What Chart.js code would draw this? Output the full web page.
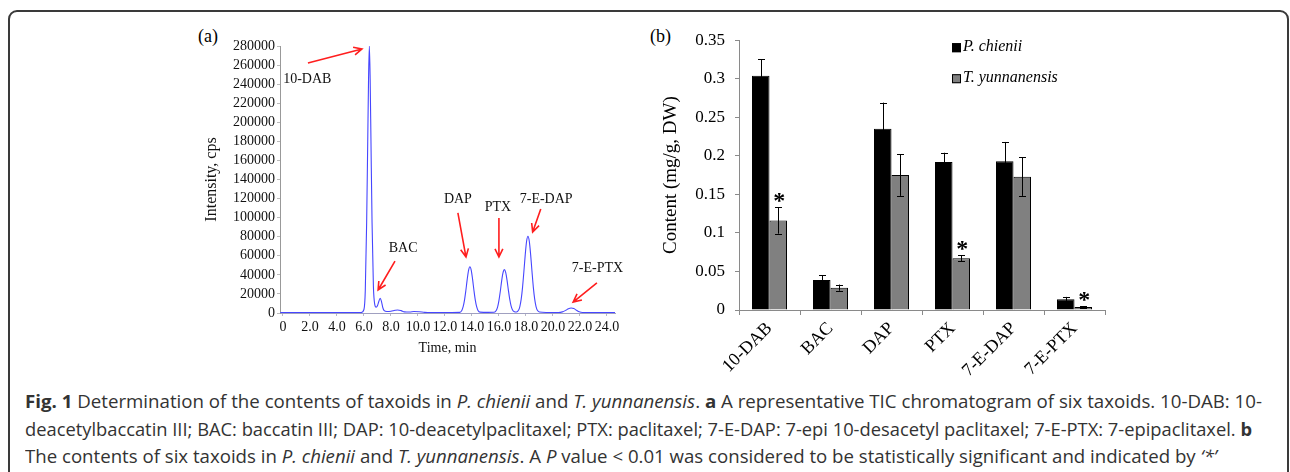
<!DOCTYPE html>
<html>
<head>
<meta charset="utf-8">
<script src="https://cdn.jsdelivr.net/npm/chart.js@4.4.0/dist/chart.umd.min.js"></script>
<style>
  html, body { margin: 0; padding: 0; background: #fff; }
  body { width: 1290px; height: 472px; position: relative; overflow: hidden; }
  #frame { position: absolute; left: 8px; top: 10px; width: 1281px; height: 480px;
           border: 2px solid #3a3a3a; border-radius: 9px; box-sizing: border-box; }
  canvas { position: absolute; }
  .panel { position: absolute; font: 18px 'Liberation Serif', 'Times New Roman', serif; color: #000; }
  #cap { position: absolute; left: 25px; top: 388px; font-family: 'Open Sans', 'DejaVu Sans', sans-serif;
         font-size: 18px; line-height: 27.5px; color: #333; }
  .ln { display: block; width: max-content; white-space: nowrap; transform-origin: 0 0; }
</style>
</head>
<body>
<div id="frame"></div>
<div class="panel" style="left:198px; top:26px;">(a)</div>
<div class="panel" style="left:650px; top:26px;">(b)</div>
<canvas id="chromChart" width="440" height="345" style="left:190px; top:20px;"></canvas>
<canvas id="barChart" width="470" height="362" style="left:640px; top:20px;"></canvas>
<div id="cap">
  <div class="ln" data-w="1237"><b>Fig. 1</b> Determination of the contents of taxoids in <i>P. chienii</i> and <i>T. yunnanensis</i>. <b>a</b> A representative TIC chromatogram of six taxoids. 10-DAB: 10-</div>
  <div class="ln" data-w="1227">deacetylbaccatin III; BAC: baccatin III; DAP: 10-deacetylpaclitaxel; PTX: paclitaxel; 7-E-DAP: 7-epi 10-desacetyl paclitaxel; 7-E-PTX: 7-epipaclitaxel. <b>b</b></div>
  <div class="ln" data-w="1192">The contents of six taxoids in <i>P. chienii</i> and <i>T. yunnanensis</i>. A <i>P</i> value &lt; 0.01 was considered to be statistically significant and indicated by <i>‘*’</i></div>
</div>
<script>
// ---- panel (a): TIC chromatogram ----
const chromTime = [
  -0.2, 3.0, 5.8, 6.0, 6.1, 6.2, 6.28, 6.34, 6.4, 6.46, 6.52, 6.6, 6.7, 6.8, 6.9,
  7.0, 7.1, 7.2, 7.3, 7.4, 7.5, 7.7, 8.0, 8.3, 8.5, 8.75, 9.0, 9.4, 9.7, 10.1, 10.5, 11.0, 12.5, 13.1,
  13.25, 13.35, 13.45, 13.55, 13.65, 13.75, 13.85, 13.95, 14.05, 14.15, 14.25, 14.35, 14.45, 14.6, 15.2,
  15.65, 15.8, 15.9, 16.0, 16.1, 16.2, 16.3, 16.4, 16.5, 16.6, 16.7, 16.8, 16.9, 17.0, 17.15,
  17.3, 17.45, 17.55, 17.65, 17.75, 17.85, 17.95, 18.05, 18.15, 18.25, 18.35, 18.45, 18.55, 18.65, 18.75, 18.85, 19.0, 19.5,
  20.4, 20.7, 20.95, 21.15, 21.35, 21.55, 21.75, 21.95, 22.2, 24.6
];
const chromIntensity = [
  600, 500, 500, 3700, 24000, 95000, 180000, 245000, 280000, 245000, 180000, 95000, 28000, 9000, 6000,
  7500, 12000, 15500, 12000, 5500, 2500, 1500, 1800, 2800, 3200, 2500, 1200, 1000, 1600, 1300, 700, 500, 600, 700,
  2700, 6600, 13500, 23600, 35200, 44800, 48500, 44800, 35200, 23600, 13500, 6600, 2700, 900, 700,
  800, 2600, 6200, 13000, 22500, 33500, 42000, 45500, 42500, 34500, 24000, 14500, 7500, 3500, 1300,
  1000, 2800, 6800, 14500, 26900, 43500, 61200, 75200, 80500, 75200, 61200, 43500, 26900, 14500, 6800, 2800, 1000, 600,
  600, 1200, 2800, 4500, 5200, 4600, 2800, 1200, 600, 500
];
const timeTicks = [0, 2, 4, 6, 8, 10, 12, 14, 16, 18, 20, 22, 24];
const timeTickLabels = ["0", "2.0", "4.0", "6.0", "8.0", "10.0", "12.0", "14.0", "16.0", "18.0", "20.0", "22.0", "24.0"];
const intensityTicks = [0, 20000, 40000, 60000, 80000, 100000, 120000, 140000, 160000, 180000, 200000, 220000, 240000, 260000, 280000];

// peak annotations (data units: min, cps)
const peakNames = ["10-DAB", "BAC", "DAP", "PTX", "7-E-DAP", "7-E-PTX"];
const peakLabelTime = [1.8, 8.9, 12.96, 15.93, 19.5, 23.3];
const peakLabelInt = [245400, 68200, 119600, 111200, 119600, 47200];
const arrowFromTime = [1.85, 8.3, 12.96, 16.0, 19.1, 23.26];
const arrowFromInt = [262200, 54500, 104900, 99600, 109100, 31500];
const arrowToTime = [5.85, 7.05, 13.56, 16.0, 18.5, 21.5];
const arrowToInt = [276900, 24100, 58700, 58700, 85000, 11500];

// ---- panel (b): taxoid contents (mg/g DW) ----
const compounds = ["10-DAB", "BAC", "DAP", "PTX", "7-E-DAP", "7-E-PTX"];
const chieniiMean = [0.304, 0.039, 0.235, 0.192, 0.193, 0.014];
const chieniiErr = [0.021, 0.006, 0.034, 0.012, 0.025, 0.003];
const yunnanMean = [0.116, 0.029, 0.175, 0.067, 0.173, 0.004];
const yunnanErr = [0.017, 0.004, 0.027, 0.004, 0.025, 0.001];
const yunnanSig = [true, false, false, true, false, true];
const contentTicks = [0, 0.05, 0.1, 0.15, 0.2, 0.25, 0.3, 0.35];
const contentTickLabels = ["0", "0.05", "0.1", "0.15", "0.2", "0.25", "0.3", "0.35"];

const SERIF = "'Liberation Serif', 'Times New Roman', serif";
Chart.defaults.font.family = SERIF;
Chart.defaults.color = "#000";

function drawArrow(ctx, x0, y0, x1, y1) {
  const a = Math.atan2(y1 - y0, x1 - x0);
  const len = 9;
  ctx.beginPath();
  ctx.moveTo(x0, y0);
  ctx.lineTo(x1, y1);
  ctx.moveTo(x1 - len * Math.cos(a - 0.45), y1 - len * Math.sin(a - 0.45));
  ctx.lineTo(x1, y1);
  ctx.lineTo(x1 - len * Math.cos(a + 0.45), y1 - len * Math.sin(a + 0.45));
  ctx.stroke();
}

const peakLabels = {
  id: "peakLabels",
  afterDatasetsDraw(chart) {
    const { ctx } = chart;
    const x = chart.scales.x, y = chart.scales.y;
    ctx.save();
    ctx.font = "14px " + SERIF;
    ctx.fillStyle = "#111";
    ctx.textAlign = "center";
    ctx.textBaseline = "middle";
    ctx.strokeStyle = "#ff1e1e";
    ctx.lineWidth = 1.6;
    peakNames.forEach((name, i) => {
      ctx.fillText(name, x.getPixelForValue(peakLabelTime[i]), y.getPixelForValue(peakLabelInt[i]));
      drawArrow(ctx,
        x.getPixelForValue(arrowFromTime[i]), y.getPixelForValue(arrowFromInt[i]),
        x.getPixelForValue(arrowToTime[i]), y.getPixelForValue(arrowToInt[i]));
    });
    ctx.restore();
  }
};

new Chart(document.getElementById("chromChart"), {
  type: "line",
  data: {
    datasets: [{
      label: "TIC",
      data: chromTime.map((t, i) => ({ x: t, y: chromIntensity[i] })),
      borderColor: "rgb(70, 70, 255)",
      borderWidth: 1.1,
      pointRadius: 0,
      fill: false,
      cubicInterpolationMode: "monotone"
    }]
  },
  options: {
    responsive: false,
    animation: false,
    devicePixelRatio: 1,
    layout: { padding: { top: 26, right: 15, left: 0, bottom: 0 } },
    plugins: { legend: { display: false }, tooltip: { enabled: false } },
    scales: {
      x: {
        type: "linear",
        min: -0.22,
        max: 24.6,
        afterBuildTicks: (s) => { s.ticks = timeTicks.map(v => ({ value: v })); },
        afterFit: (s) => { s.height = 52; },
        ticks: {
          autoSkip: false, maxRotation: 0, padding: 3,
          font: { size: 14 }, color: "#111",
          callback: (v) => timeTickLabels[timeTicks.indexOf(v)]
        },
        grid: { drawOnChartArea: false, tickLength: 3, color: "#b8b8c8" },
        border: { color: "#a0a0c0" },
        title: { display: true, text: "Time, min", font: { size: 14 }, color: "#111", padding: { top: 0, bottom: 8 } }
      },
      y: {
        min: 0,
        max: 280000,
        afterBuildTicks: (s) => { s.ticks = intensityTicks.map(v => ({ value: v })); },
        afterFit: (s) => { s.width = 90; },
        ticks: { autoSkip: false, padding: 2, font: { size: 14 }, color: "#111", callback: (v) => String(v) },
        grid: { drawOnChartArea: false, tickLength: 3, color: "#bbbbbb" },
        border: { color: "#999999", dash: [1, 2] },
        title: { display: true, text: "Intensity, cps", font: { size: 16 }, color: "#111", padding: { top: 12, bottom: 0 } }
      }
    }
  },
  plugins: [peakLabels]
});

const errorBars = {
  id: "errorBars",
  afterDatasetsDraw(chart) {
    const { ctx } = chart;
    const y = chart.scales.y;
    ctx.save();
    ctx.strokeStyle = "#000";
    ctx.fillStyle = "#000";
    ctx.lineWidth = 1;
    ctx.font = "bold 24px " + SERIF;
    ctx.textAlign = "center";
    ctx.textBaseline = "alphabetic";
    chart.data.datasets.forEach((ds, di) => {
      chart.getDatasetMeta(di).data.forEach((bar, i) => {
        const top = y.getPixelForValue(ds.data[i] + ds.errors[i]);
        const bot = y.getPixelForValue(ds.data[i] - ds.errors[i]);
        const cx = Math.round(bar.x) + 0.5;
        ctx.beginPath();
        ctx.moveTo(cx, top); ctx.lineTo(cx, bot);
        ctx.moveTo(cx - 3.5, Math.round(top) + 0.5); ctx.lineTo(cx + 3.5, Math.round(top) + 0.5);
        ctx.moveTo(cx - 3.5, Math.round(bot) + 0.5); ctx.lineTo(cx + 3.5, Math.round(bot) + 0.5);
        ctx.stroke();
        if (ds.sig && ds.sig[i]) {
          const m = ctx.measureText("*");
          const cy = top - 10;
          ctx.fillText("*", bar.x + 1, cy - (m.actualBoundingBoxDescent - m.actualBoundingBoxAscent) / 2);
        }
      });
    });
    ctx.restore();
  }
};

const boxLegend = {
  id: "boxLegend",
  afterDraw(chart) {
    const { ctx, chartArea } = chart;
    ctx.save();
    ctx.font = "italic 16px " + SERIF;
    ctx.textBaseline = "middle";
    ctx.textAlign = "left";
    chart.data.datasets.forEach((ds, i) => {
      const sx = chartArea.right - 153;
      const sy = chartArea.top + 3 + i * 31;
      ctx.fillStyle = ds.backgroundColor;
      ctx.fillRect(sx, sy, 9, 9);
      ctx.strokeStyle = "#000";
      ctx.lineWidth = 1;
      ctx.strokeRect(sx + 0.5, sy + 0.5, 8, 8);
      ctx.fillStyle = "#000";
      ctx.fillText(ds.label, sx + 11, sy + 4);
    });
    ctx.restore();
  }
};

new Chart(document.getElementById("barChart"), {
  type: "bar",
  data: {
    labels: compounds,
    datasets: [
      { label: "P. chienii", data: chieniiMean, errors: chieniiErr,
        backgroundColor: "#000000", borderColor: "#000000", borderWidth: 1,
        categoryPercentage: 0.574, barPercentage: 1.0 },
      { label: "T. yunnanensis", data: yunnanMean, errors: yunnanErr, sig: yunnanSig,
        backgroundColor: "#808080", borderColor: "#000000", borderWidth: 1,
        categoryPercentage: 0.574, barPercentage: 1.0 }
    ]
  },
  options: {
    responsive: false,
    animation: false,
    devicePixelRatio: 1,
    layout: { padding: { top: 17, right: 5, left: 0, bottom: 0 } },
    plugins: { legend: { display: false }, tooltip: { enabled: false } },
    scales: {
      x: {
        afterFit: (s) => { s.height = 72; },
        ticks: { autoSkip: false, minRotation: 45, maxRotation: 45, padding: 3, font: { size: 18 }, color: "#000" },
        grid: { drawOnChartArea: false, tickLength: 5, color: "#8a8a8a", offset: true },
        border: { color: "#8a8a8a" }
      },
      y: {
        min: 0,
        max: 0.35,
        afterBuildTicks: (s) => { s.ticks = contentTicks.map(v => ({ value: v })); },
        afterFit: (s) => { s.width = 99; },
        ticks: { autoSkip: false, padding: 10, font: { size: 17 }, color: "#000",
                 callback: (v) => contentTickLabels[contentTicks.indexOf(v)] },
        grid: { drawOnChartArea: false, tickLength: 4, color: "#8a8a8a" },
        border: { color: "#8a8a8a" },
        title: { display: true, text: "Content (mg/g, DW)", font: { size: 19 }, color: "#000", padding: { top: 20, bottom: 0 } }
      }
    }
  },
  plugins: [errorBars, boxLegend]
});

// squeeze caption lines to the widths they take in the figure
function fitCaption() {
  document.querySelectorAll(".ln").forEach(el => {
    el.style.transform = "none";
    const w = el.getBoundingClientRect().width;
    el.style.transform = "scaleX(" + (+el.dataset.w / w) + ")";
  });
}
fitCaption();
if (document.fonts) document.fonts.ready.then(fitCaption);
</script>
</body>
</html>
